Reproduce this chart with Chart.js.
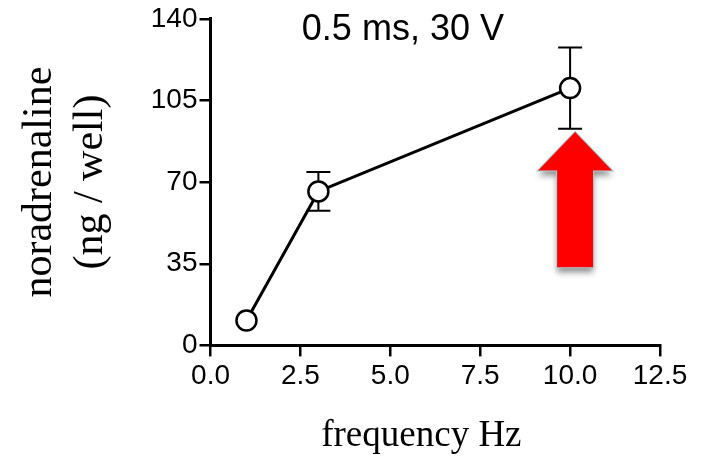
<!DOCTYPE html>
<html>
<head>
<meta charset="utf-8">
<script src="https://cdn.jsdelivr.net/npm/chart.js@4/dist/chart.umd.min.js"></script>
<style>
  html, body { margin: 0; padding: 0; background: #fff; }
  #wrap { width: 705px; height: 457px; }
</style>
</head>
<body>
<div id="wrap"><canvas id="result-chart"></canvas></div>
<script>
// data
const frequency = [1, 3, 10];
const noradrenaline = [10.7, 66, 110.3];
const sem = [0, 8.3, 17.4];
const xTicks = [0, 2.5, 5, 7.5, 10, 12.5];
const yTicks = [0, 35, 70, 105, 140];
const titleText = '0.5 ms, 30 V';

// red arrow annotation, in data units
const arrowX = 10;
const arrowTip = 91.5;
const arrowBase = 33.5;
const arrowNeck = 75;

const black = '#000';

const errorBars = {
    id: 'errorBars',
    beforeDatasetsDraw(chart) {
        const { ctx, scales: { x, y } } = chart;
        ctx.save();
        ctx.strokeStyle = black;
        ctx.lineWidth = 2;
        frequency.forEach((f, i) => {
            if (!sem[i]) return;
            const px = x.getPixelForValue(f);
            const top = y.getPixelForValue(noradrenaline[i] + sem[i]);
            const bot = y.getPixelForValue(noradrenaline[i] - sem[i]);
            ctx.beginPath();
            ctx.moveTo(px, top); ctx.lineTo(px, bot);
            ctx.moveTo(px - 12, top); ctx.lineTo(px + 12, top);
            ctx.moveTo(px - 12, bot); ctx.lineTo(px + 12, bot);
            ctx.stroke();
        });
        ctx.restore();
    }
};

const extras = {
    id: 'extras',
    afterDatasetsDraw(chart) {
        const { ctx, scales: { x, y } } = chart;
        // title inside the plot
        ctx.save();
        ctx.fillStyle = black;
        ctx.font = '36px "Liberation Sans", Arial, sans-serif';
        ctx.textAlign = 'center';
        ctx.textBaseline = 'alphabetic';
        ctx.fillText(titleText, x.getPixelForValue(5.35), y.getPixelForValue(131));
        ctx.restore();

        // arrow
        const cx = x.getPixelForValue(arrowX) + 5;
        const tip = y.getPixelForValue(arrowTip);
        const neck = y.getPixelForValue(arrowNeck);
        const base = y.getPixelForValue(arrowBase);
        const shaft = 18, head = 37;
        ctx.save();
        ctx.beginPath();
        ctx.moveTo(cx, tip);
        ctx.lineTo(cx + head, neck);
        ctx.lineTo(cx + shaft, neck);
        ctx.lineTo(cx + shaft, base);
        ctx.lineTo(cx - shaft, base);
        ctx.lineTo(cx - shaft, neck);
        ctx.lineTo(cx - head, neck);
        ctx.closePath();
        ctx.shadowColor = 'rgba(0,0,0,0.45)';
        ctx.shadowBlur = 6;
        ctx.shadowOffsetY = 5;
        ctx.fillStyle = '#ff0000';
        ctx.fill();
        ctx.shadowColor = 'transparent';
        ctx.strokeStyle = '#a9d6da';
        ctx.lineWidth = 2;
        ctx.stroke();
        ctx.fill();
        ctx.restore();
    }
};

const axisGrid = {
    display: true,
    drawOnChartArea: false,
    drawTicks: true,
    tickLength: 11,
    color: black,
    lineWidth: 2.5,
};

new Chart(document.getElementById('result-chart'), {
    type: 'scatter',
    data: {
        datasets: [{
            data: frequency.map((f, i) => ({ x: f, y: noradrenaline[i] })),
            showLine: true,
            borderColor: black,
            borderWidth: 3,
            pointRadius: 10,
            pointBorderWidth: 2.5,
            pointBackgroundColor: '#fff',
            pointBorderColor: black,
        }]
    },
    options: {
        responsive: true,
        maintainAspectRatio: false,
        devicePixelRatio: 1,
        animation: false,
        events: [],
        layout: { padding: { left: 15, right: 45, top: 7, bottom: 2 } },
        plugins: { legend: { display: false }, tooltip: { enabled: false } },
        scales: {
            x: {
                type: 'linear',
                min: 0, max: 12.5,
                afterBuildTicks: s => { s.ticks = xTicks.map(v => ({ value: v })); },
                ticks: {
                    color: black,
                    padding: 3,
                    font: { family: '"Liberation Sans", Arial, sans-serif', size: 28 },
                    callback: v => v.toFixed(1),
                    maxRotation: 0,
                },
                grid: axisGrid,
                border: { display: true, color: black, width: 3 },
                title: {
                    display: true,
                    // trailing spaces nudge the centred title left, as in the figure
                    text: 'frequency Hz\u00a0\u00a0\u00a0',
                    color: black,
                    padding: { top: 22, bottom: 0 },
                    font: { family: '"Liberation Serif", "Times New Roman", serif', size: 37, lineHeight: 1 },
                },
            },
            y: {
                type: 'linear',
                min: 0, max: 140,
                afterBuildTicks: s => { s.ticks = yTicks.map(v => ({ value: v })); },
                ticks: {
                    color: black,
                    padding: 2,
                    font: { family: '"Liberation Sans", Arial, sans-serif', size: 28 },
                },
                grid: axisGrid,
                border: { display: true, color: black, width: 3 },
                title: {
                    display: true,
                    text: ['noradrenaline', '(ng / well)'],
                    color: black,
                    padding: { top: 0, bottom: 33 },
                    font: { family: '"Liberation Serif", "Times New Roman", serif', size: 42, lineHeight: 1.2 },
                },
            },
        },
    },
    plugins: [errorBars, extras],
});
</script>
</body>
</html>
